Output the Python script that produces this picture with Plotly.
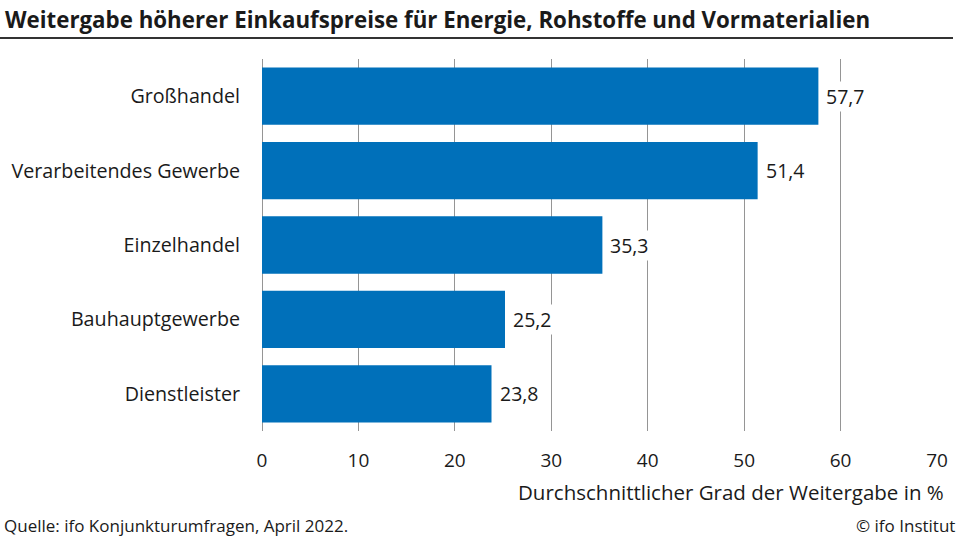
import plotly.graph_objects as go

categories = ["Großhandel", "Verarbeitendes Gewerbe", "Einzelhandel", "Bauhauptgewerbe", "Dienstleister"]
values = [57.7, 51.4, 35.3, 25.2, 23.8]
labels = [f"{v:.1f}".replace(".", ",") for v in values]
tick_vals = [0, 10, 20, 30, 40, 50, 60, 70]

title = "Weitergabe höherer Einkaufspreise für Energie, Rohstoffe und Vormaterialien"
x_title = "Durchschnittlicher Grad der Weitergabe in %"
source = "Quelle: ifo Konjunkturumfragen, April 2022."
credit = "© ifo Institut"

FONT = "Open Sans"
TXT = "#1a1a1a"

W, H = 960, 540
ml, mr, mt, mb = 262, 23, 59, 109
pw, ph = W - ml - mr, H - mt - mb


def px2paper(x, y):
    return (x - ml) / pw, 1 - (y - mt) / ph


fig = go.Figure(go.Bar(
    y=categories, x=values, orientation="h",
    marker=dict(color="#0070BA", line=dict(width=0)),
    hoverinfo="x+y",
))

anns = []
for c, v, t in zip(categories, values, labels):
    anns.append(dict(text=t, x=v, y=c, xref="x", yref="y", xanchor="left", yanchor="middle",
                     xshift=6, showarrow=False, bgcolor="white", borderpad=1,
                     font=dict(size=19.5, family=FONT, color=TXT)))

tx, ty = px2paper(3, 19)
anns.append(dict(text=f"<b>{title}</b>", x=tx, y=ty, xref="paper", yref="paper",
                 xanchor="left", yanchor="middle", showarrow=False,
                 font=dict(size=22.3, family=FONT, color=TXT)))
ax_, ay_ = px2paper(946, 492)
anns.append(dict(text=x_title, x=ax_, y=ay_, xref="paper", yref="paper",
                 xanchor="right", yanchor="middle", showarrow=False,
                 font=dict(size=20.5, family=FONT, color=TXT)))
sx, sy = px2paper(2, 525)
anns.append(dict(text=source, x=sx, y=sy, xref="paper", yref="paper",
                 xanchor="left", yanchor="middle", showarrow=False,
                 font=dict(size=17, family=FONT, color=TXT)))
cx, cy = px2paper(957, 525)
anns.append(dict(text=credit, x=cx, y=cy, xref="paper", yref="paper",
                 xanchor="right", yanchor="middle", showarrow=False,
                 font=dict(size=17, family=FONT, color=TXT)))

fig.update_layout(
    width=W, height=H,
    margin=dict(l=ml, r=mr, t=mt, b=mb),
    paper_bgcolor="white", plot_bgcolor="white",
    bargap=0.23,
    showlegend=False,
    font=dict(family=FONT, size=18, color=TXT),
    xaxis=dict(range=[0, 70], tickvals=tick_vals, showgrid=True, gridcolor="#959595",
               gridwidth=1.2, zeroline=True, zerolinecolor="#959595", zerolinewidth=1.2,
               showline=False, ticks="", tickfont=dict(size=19, family=FONT, color=TXT),
               ticklabelstandoff=16, fixedrange=True),
    yaxis=dict(autorange="reversed", showgrid=False, showline=False, ticks="",
               tickfont=dict(size=19.7, family=FONT, color=TXT), ticklabelstandoff=21,
               fixedrange=True),
    annotations=anns,
)

x0, y0 = px2paper(0, 38)
x1, _ = px2paper(953, 38)
fig.add_shape(type="line", xref="paper", yref="paper", x0=x0, x1=x1, y0=y0, y1=y0,
              line=dict(color="#333333", width=2))

fig.write_html("out.html", config={"displayModeBar": False},
               post_script="document.body.style.margin='0';")
